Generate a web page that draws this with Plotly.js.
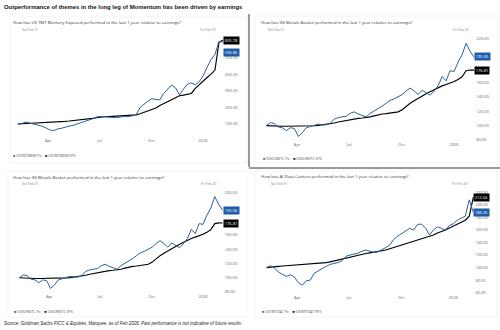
<!DOCTYPE html>
<html>
<head>
<meta charset="utf-8">
<script src="https://cdn.plot.ly/plotly-3.0.1.min.js"></script>
<style>html,body{margin:0;padding:0;background:#fff;}#chart{width:500px;height:330px;}</style>
</head>
<body>
<div id="chart"></div>
<script>
// ---------- DATA ----------
const dates = ["2025-02-06","2025-02-13","2025-02-20","2025-02-27","2025-03-06","2025-03-13","2025-03-20","2025-03-27",
"2025-04-03","2025-04-10","2025-04-17","2025-04-24","2025-05-01","2025-05-08","2025-05-15","2025-05-22","2025-05-29",
"2025-06-05","2025-06-12","2025-06-19","2025-06-26","2025-07-03","2025-07-10","2025-07-17","2025-07-24","2025-07-31",
"2025-08-07","2025-08-14","2025-08-21","2025-08-28","2025-09-04","2025-09-11","2025-09-18","2025-09-25",
"2025-10-02","2025-10-09","2025-10-16","2025-10-23","2025-10-30","2025-11-06","2025-11-13","2025-11-20","2025-11-27",
"2025-12-04","2025-12-11","2025-12-18","2025-12-25","2026-01-01","2026-01-08","2026-01-15","2026-01-22","2026-01-29","2026-02-05"];

const tmtPx  = [100,103,112,106,101,95,88,78,66,60,70,74,82,88,92,100,108,116,122,132,143,146,144,142,140,138,142,146,144,150,155,200,222,238,252,248,245,285,312,335,318,276,310,340,348,336,355,390,442,488,520,596,594.86];
const tmtEps = [100,101,102,103,104,106,107,108,109,110,112,114,116,118,120,122,124,127,130,134,138,142,144,145,146,147,148,149,150,151,155,162,170,178,186,196,212,222,232,246,258,270,274,278,284,315,338,362,380,400,425,590,605.78];

const metalsPx  = [100,104,103,98,97,93,97,96,85,90,97,99,101,102,101,101,103,109,111,112,113,117,119,116,114,112,117,120,123,127,131,135,137,140,143,148,152,148,143,149,146,142,148,155,168,162,176,175,188,198,214,203,195.06];
const metalsEps = [100,99.5,99.2,99,99,99,99,99,99,99.2,99.4,99.6,99.8,100.2,100.8,101.4,102,103.5,105,106.2,107.2,108,109,110,110.5,111,112,113.5,115,116,116.5,117,118,119,122,127,131,134.5,138,141,144,147,150,152,155,157,158.5,161,164,167.5,176,177,176.81];

const aiPx  = [100,103,99,93,89,86,88.5,85,76,72,79,80,91,95,98,102,105,106.5,108,111,118,120,121,123,126,128,126,124,125,128,132,136,145,150,154,158,162.5,160,169,169,163,152,160,165,163,160,167,170,175.5,178.5,182,208,188.26];
const aiEps = [100,101,101.5,102,102.5,103,103.3,103.6,104,104.3,104.7,105,105.5,106,107,108,109,110.5,112,114,116,117.5,119,120,121,122.5,123.5,124.5,125.5,126.5,128,130,132,134,135.5,137,139,141,143,146,148,150,152,155,157,160,163,166,169,172,175.5,182,212.04];

const xTickVals   = ["2025-04-01","2025-07-01","2025-10-01","2026-01-01"];
const xTickLabels = ["Apr","Jul","Oct","2026"];
const yTicksTmt    = [100,200,300,400,500];
const yTicksMetals = [80,100,120,140,160,220];
const yTicksAi     = [60,80,100,120,140,160,180,200,220];

const mainTitle = "Outperformance of themes in the long leg of Momentum has been driven by earnings";
const sourceText = "Source: Goldman Sachs FICC & Equities, Marquee, as of Feb 2026. Past performance is not indicative of future results.";
const subTitles = [
  "How has US TMT Memory Exposed performed in the last 1 year relative to earnings?",
  "How has GS Metals Basket performed in the last 1 year relative to earnings?",
  "How has GS Metals Basket performed in the last 1 year relative to earnings?",
  "How has AI Data Centers performed in the last 1 year relative to earnings?"
];
const tickers = ["GSTMTMEM","GSXUMETL","GSXUMETL","GSTMTDAT"];
const dateLeft = "Sat Feb 01", dateRight = "Fri Feb 20";

// ---------- STYLE / LAYOUT ----------
const W = 500, H = 330;
const fx = p => p / W, fy = p => 1 - p / H;
const BLUE = "#2d5f9a", BADGEBLUE = "#1f5ca8", BLACK = "#000000";

const panels = [
  {px: tmtPx, eps: tmtEps, yt: yTicksTmt, yr: [22, 642], box: [15, 224, 34, 137], card: [10, 247, 17, 163],
   sub: [11, 22], dl: [20, 29], dr: [217, 29], leg: [11, 156]},
  {px: metalsPx, eps: metalsEps, yt: yTicksMetals, yr: [78.6, 228.3], box: [263.5, 475.2, 33, 141], card: [255, 498, 16, 163],
   sub: [259, 22], dl: [266, 29], dr: [470, 29], leg: [261, 158]},
  {px: metalsPx, eps: metalsEps, yt: yTicksMetals, yr: [78.6, 226], box: [16.5, 223.7, 188, 293], card: [8, 247, 171, 317],
   sub: [11, 177], dl: [20, 183], dr: [218, 183], leg: [11.5, 311]},
  {px: aiPx, eps: aiEps, yt: yTicksAi, yr: [57.9, 228.4], box: [263.7, 474.4, 187, 294], card: [255, 497, 171, 317],
   sub: [259, 176.5], dl: [269, 183], dr: [469, 183], leg: [260, 311]}
];

const traces = [];
const layout = {
  width: W, height: H, margin: {l: 0, r: 0, t: 0, b: 0},
  paper_bgcolor: "#fff", plot_bgcolor: "rgba(0,0,0,0)",
  showlegend: false, annotations: [], shapes: [],
  font: {family: "Open Sans, sans-serif", color: "#555"}
};

panels.forEach((p, i) => {
  const n = i === 0 ? "" : String(i + 1);
  const xa = "x" + n, ya = "y" + n;
  traces.push({x: dates, y: p.eps, xaxis: xa, yaxis: ya, type: "scatter", mode: "lines",
               line: {color: BLACK, width: 1.15}, name: tickers[i] + " EPS", hoverinfo: "skip"});
  traces.push({x: dates, y: p.px, xaxis: xa, yaxis: ya, type: "scatter", mode: "lines",
               line: {color: BLUE, width: 1}, name: tickers[i] + " Px", hoverinfo: "skip"});
  const [x0, x1, y0, y1] = p.box;
  layout["xaxis" + n] = {
    domain: [fx(x0), fx(x1)], anchor: ya, type: "date", range: ["2025-02-01", "2026-02-07"],
    tickvals: xTickVals, ticktext: xTickLabels, tickfont: {size: 4, color: "#666"},
    showgrid: false, zeroline: false, showline: false, ticks: "", fixedrange: true
  };
  layout["yaxis" + n] = {
    domain: [fy(y1), fy(y0)], anchor: xa, side: "right", range: p.yr,
    tickvals: p.yt, tickformat: ".2f", tickfont: {size: 4, color: "#666"},
    showgrid: false, zeroline: false, showline: false, ticks: "", fixedrange: true
  };
  const c = p.card;
  layout.shapes.push({type: "rect", xref: "paper", yref: "paper", x0: fx(c[0]), x1: fx(c[1]), y0: fy(c[3]), y1: fy(c[2]),
    line: {color: "#e6e6e6", width: 0.5}, fillcolor: "rgba(0,0,0,0)", layer: "below"});
  layout.annotations.push({xref: "paper", yref: "paper", x: fx(p.sub[0]), y: fy(p.sub[1]), xanchor: "left", yanchor: "middle",
    text: subTitles[i], showarrow: false, font: {size: 4.3, color: "#333", family: "Open Sans, sans-serif"}});
  layout.annotations.push({xref: "paper", yref: "paper", x: fx(p.dl[0]), y: fy(p.dl[1]), xanchor: "left", yanchor: "middle",
    text: dateLeft, showarrow: false, font: {size: 3.4, color: "#888"}});
  layout.annotations.push({xref: "paper", yref: "paper", x: fx(p.dr[0]), y: fy(p.dr[1]), xanchor: "right", yanchor: "middle",
    text: dateRight, showarrow: false, font: {size: 3.4, color: "#888"}});
  layout.annotations.push({xref: "paper", yref: "paper", x: fx(p.leg[0]), y: fy(p.leg[1]), xanchor: "left", yanchor: "middle",
    text: "<span style='color:" + BLUE + "'>■</span> " + tickers[i] + " Px    <span style='color:#000'>■</span> " + tickers[i] + " EPS",
    showarrow: false, font: {size: 3.6, color: "#555"}});
  const lastPx = p.px[p.px.length - 1], lastEps = p.eps[p.eps.length - 1];
  const overlap = Math.abs(lastPx - lastEps) / (p.yr[1] - p.yr[0]) * (y1 - y0) < 6;
  layout.annotations.push({xref: xa + " domain", yref: ya, x: 1, y: lastEps, xanchor: "left", yanchor: "middle", xshift: -1,
    text: lastEps.toFixed(2), showarrow: false, bgcolor: BLACK, borderpad: 0.8,
    font: {size: 4, color: "#fff", family: "Open Sans, sans-serif"}});
  layout.annotations.push({xref: xa + " domain", yref: ya, x: 1, y: lastPx, xanchor: "left", yanchor: "middle", xshift: -1,
    yshift: overlap ? -11 : 0,
    text: lastPx.toFixed(2), showarrow: false, bgcolor: BADGEBLUE, borderpad: 0.8,
    font: {size: 4, color: "#fff", family: "Open Sans, sans-serif"}});
});

layout.annotations.push({xref: "paper", yref: "paper", x: fx(2), y: fy(7), xanchor: "left", yanchor: "middle",
  text: "<b>" + mainTitle + "</b>", showarrow: false, font: {size: 5.9, color: "#111", family: "Liberation Sans, Arial, sans-serif"}});
layout.annotations.push({xref: "paper", yref: "paper", x: fx(2), y: fy(323), xanchor: "left", yanchor: "middle",
  text: "<i>" + sourceText + "</i>", showarrow: false, font: {size: 4.5, color: "#222", family: "Liberation Sans, Arial, sans-serif"}});

layout.shapes.push({type: "line", xref: "paper", yref: "paper", x0: fx(249), x1: fx(249), y0: fy(14), y1: fy(167),
  line: {color: "#333", width: 1}});
layout.shapes.push({type: "line", xref: "paper", yref: "paper", x0: fx(249), x1: fx(500), y0: fy(168), y1: fy(168),
  line: {color: "#333", width: 1}});

Plotly.newPlot("chart", traces, layout, {staticPlot: true, displayModeBar: false});
</script>
</body>
</html>
